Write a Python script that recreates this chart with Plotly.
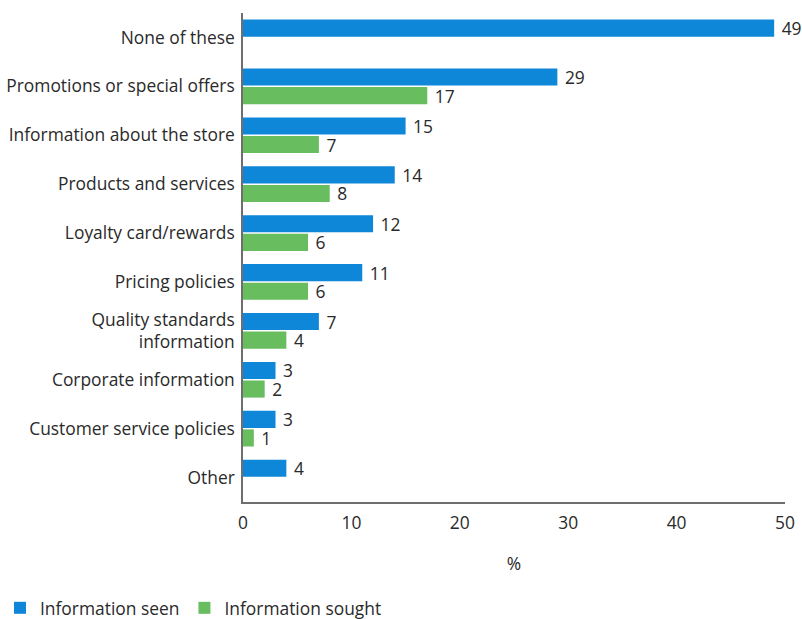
import plotly.graph_objects as go

categories = [
    "None of these",
    "Promotions or special offers",
    "Information about the store",
    "Products and services",
    "Loyalty card/rewards",
    "Pricing policies",
    "Quality standards<br>information",
    "Corporate information",
    "Customer service policies",
    "Other",
]
info_seen = [49, 29, 15, 14, 12, 11, 7, 3, 3, 4]
info_sought = [None, 17, 7, 8, 6, 6, 4, 2, 1, None]
x_ticks = [0, 10, 20, 30, 40, 50]

BLUE = "#0f87d9"
GREEN = "#68bd5f"
TEXT = "#2a2a2a"
FONT = "Open Sans"
SIZE = 17.4

fig = go.Figure()
for name, vals, color in [
    ("Information seen", info_seen, BLUE),
    ("Information sought", info_sought, GREEN),
]:
    fig.add_trace(go.Bar(
        name=name,
        y=categories,
        x=vals,
        orientation="h",
        marker=dict(color=color, line=dict(width=0)),
        texttemplate="\u00a0%{x}",
        textposition="outside",
        constraintext="none",
        cliponaxis=False,
        textfont=dict(family=FONT, size=SIZE, color=TEXT),
    ))

fig.update_layout(
    width=802,
    height=619,
    margin=dict(l=243, r=17, t=13, b=117),
    paper_bgcolor="white",
    plot_bgcolor="white",
    barmode="group",
    bargap=0.24,
    bargroupgap=0.08,
    font=dict(family=FONT, size=SIZE, color=TEXT),
    showlegend=True,
    legend=dict(
        orientation="h",
        xref="container",
        yref="container",
        x=-0.003,
        y=1 - 608 / 619,
        xanchor="left",
        yanchor="middle",
        font=dict(family=FONT, size=SIZE, color=TEXT),
        itemclick=False,
        tracegroupgap=0,
    ),
    xaxis=dict(
        range=[0, 50],
        tickvals=x_ticks,
        showgrid=False,
        zeroline=False,
        showline=True,
        linecolor="#6e6e6e",
        linewidth=1.5,
        ticks="",
        ticklabelstandoff=4,
        automargin=False,
        title=dict(text="%", standoff=25, font=dict(family=FONT, size=SIZE, color=TEXT)),
        fixedrange=True,
    ),
    yaxis=dict(
        categoryorder="array",
        categoryarray=categories,
        autorange="reversed",
        showgrid=False,
        zeroline=False,
        showline=True,
        linecolor="#6e6e6e",
        linewidth=1.5,
        ticks="",
        ticklabelstandoff=3,
        automargin=False,
        fixedrange=True,
    ),
)

fig.write_html("out.html")
